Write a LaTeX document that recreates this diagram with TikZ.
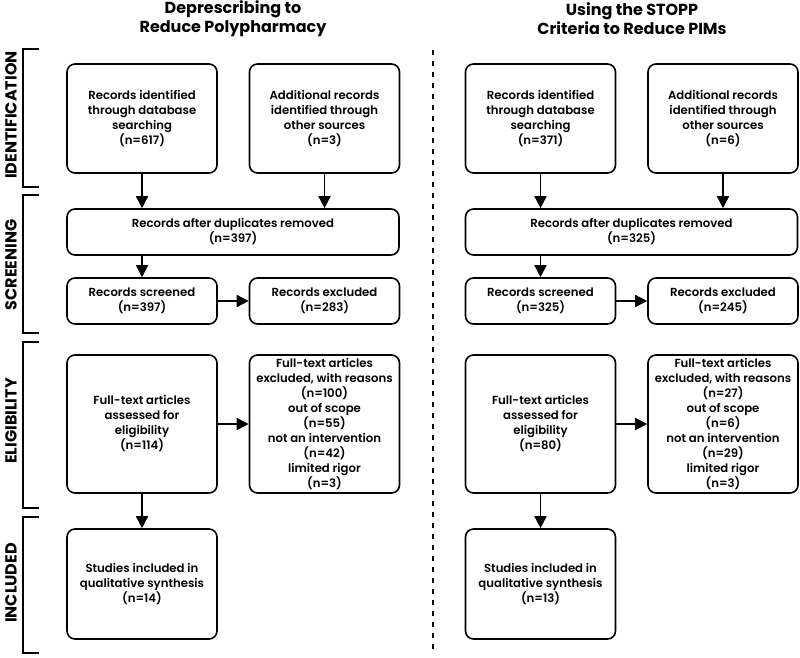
\documentclass[tikz,border=0pt]{standalone}
\usepackage{fontspec}
\setmainfont{Poppins}
\newfontfamily\boxfontfam{Poppins SemiBold}
\usetikzlibrary{arrows.meta}
\begin{document}
\begin{tikzpicture}[x=1pt,y=-1pt,
  box/.style={draw, line width=1.6pt, rounded corners=8pt, align=center, inner sep=0pt,
    font=\boxfontfam\fontsize{11.7}{15}\selectfont},
  wbox/.style={box, minimum width=150pt},
  arr/.style={line width=1.5pt, -{Triangle[width=12pt,length=12pt]}},
  brk/.style={line width=1.5pt},
  lab/.style={rotate=90, font=\bfseries\fontsize{16}{16}\selectfont, inner sep=0pt},
  ttl/.style={align=center, font=\bfseries\fontsize{16}{19}\selectfont, inner sep=0pt},
  sep/.style={line width=2pt, dash pattern=on 5pt off 6pt}
]
\useasboundingbox (0,0) rectangle (800,657);

% titles
\node[ttl] (tL) at (233,19) {Deprescribing to\\Reduce Polypharmacy};
\node[ttl] (tR) at (632,19) {Using the STOPP\\Criteria to Reduce PIMs};

% stage brackets
\draw[brk] (39,49) -- (23,49) -- (23,187) -- (39,187);
\draw[brk] (39,195) -- (23,195) -- (23,333) -- (39,333);
\draw[brk] (39,342) -- (23,342) -- (23,508) -- (39,508);
\draw[brk] (39,517) -- (23,517) -- (23,653) -- (39,653);
\node[lab] (sI) at (11,115) {IDENTIFICATION};
\node[lab] (sS) at (11,265) {SCREENING};
\node[lab] (sE) at (11,421) {ELIGIBILITY};
\node[lab] (sN) at (11,583) {INCLUDED};

% separator
\coordinate (d1) at (433,50);
\coordinate (d2) at (433,652);
\draw[sep] (d1) -- (d2);

% ---------- left column
\node[wbox, minimum height=109pt] (LidA) at (142,118.5) {Records identified\\through database\\searching\\(n=617)};
\node[wbox, minimum height=109pt] (LidB) at (324.5,118.5) {Additional records\\identified through\\other sources\\(n=3)};
\node[box, minimum width=332pt, minimum height=46pt] (Ldup) at (233,232) {Records after duplicates removed\\(n=397)};
\node[wbox, minimum height=46pt] (Lscr) at (142,301) {Records screened\\(n=397)};
\node[wbox, minimum height=46pt] (Lexc) at (324.5,301) {Records excluded\\(n=283)};
\node[wbox, minimum height=138pt] (Lft) at (142,424) {Full-text articles\\assessed for\\eligibility\\(n=114)};
\node[wbox, minimum height=138pt] (Lfte) at (324.5,424) {Full-text articles\\excluded, with reasons\\(n=100)\\out of scope\\(n=55)\\not an intervention\\(n=42)\\limited rigor\\(n=3)};
\node[wbox, minimum height=110pt] (Linc) at (142,584) {Studies included in\\qualitative synthesis\\(n=14)};

\draw[arr] (LidA.south) -- (LidA.south |- Ldup.north);
\draw[arr] (LidB.south) -- (LidB.south |- Ldup.north);
\draw[arr] (Lscr.north |- Ldup.south) -- (Lscr.north);
\draw[arr] (Lscr.east) -- (Lexc.west);
\draw[arr] (Lft.east) -- (Lfte.west);
\draw[arr] (Lft.south) -- (Linc.north);

% ---------- right column
\node[wbox, minimum height=109pt] (RidA) at (540.5,118.5) {Records identified\\through database\\searching\\(n=371)};
\node[wbox, minimum height=109pt] (RidB) at (723,118.5) {Additional records\\identified through\\other sources\\(n=6)};
\node[box, minimum width=332pt, minimum height=46pt] (Rdup) at (631.5,232) {Records after duplicates removed\\(n=325)};
\node[wbox, minimum height=46pt] (Rscr) at (540.5,301) {Records screened\\(n=325)};
\node[wbox, minimum height=46pt] (Rexc) at (723,301) {Records excluded\\(n=245)};
\node[wbox, minimum height=138pt] (Rft) at (540.5,424) {Full-text articles\\assessed for\\eligibility\\(n=80)};
\node[wbox, minimum height=138pt] (Rfte) at (723,424) {Full-text articles\\excluded, with reasons\\(n=27)\\out of scope\\(n=6)\\not an intervention\\(n=29)\\limited rigor\\(n=3)};
\node[wbox, minimum height=110pt] (Rinc) at (540.5,584) {Studies included in\\qualitative synthesis\\(n=13)};

\draw[arr] (RidA.south) -- (RidA.south |- Rdup.north);
\draw[arr] (RidB.south) -- (RidB.south |- Rdup.north);
\draw[arr] (Rscr.north |- Rdup.south) -- (Rscr.north);
\draw[arr] (Rscr.east) -- (Rexc.west);
\draw[arr] (Rft.east) -- (Rfte.west);
\draw[arr] (Rft.south) -- (Rinc.north);
\end{tikzpicture}
\end{document}
